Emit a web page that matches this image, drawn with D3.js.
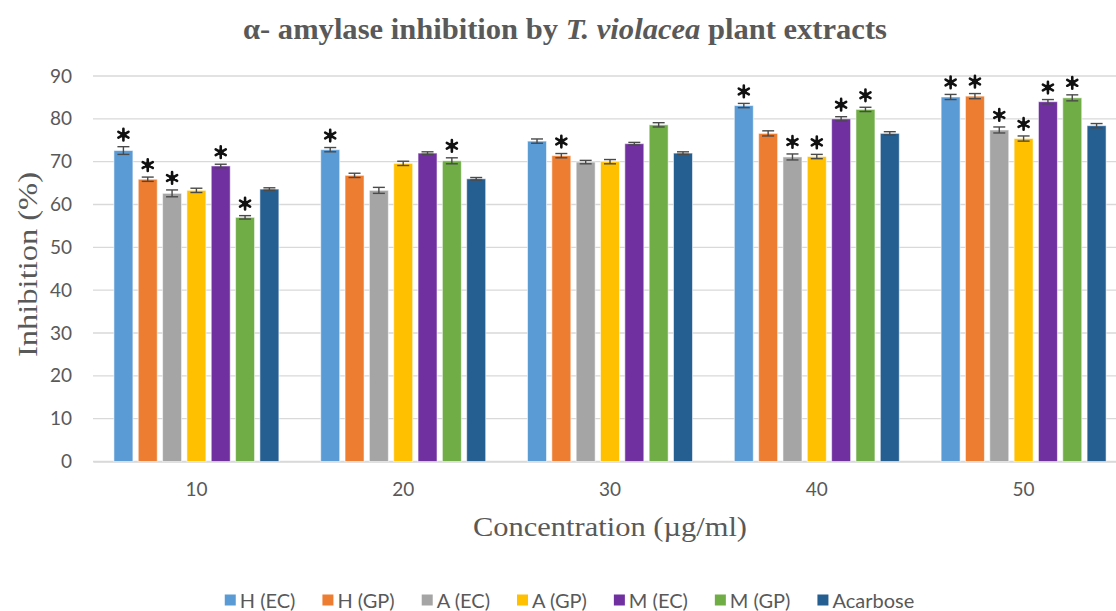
<!DOCTYPE html>
<html>
<head>
<meta charset="utf-8">
<script src="https://cdn.jsdelivr.net/npm/d3@7"></script>
<style>
  html, body { margin: 0; padding: 0; background: #fff; }
  svg { display: block; }
</style>
</head>
<body>
<svg id="chart" width="1116" height="611"></svg>
<script>
// Concentrations (µg/ml) on the x axis
const concentrations = ["10", "20", "30", "40", "50"];

// Extract / standard names, in legend order
const seriesNames = ["H (EC)", "H (GP)", "A (EC)", "A (GP)", "M (EC)", "M (GP)", "Acarbose"];
const seriesColors = ["#5B9BD5", "#ED7D31", "#A5A5A5", "#FFC000", "#7030A0", "#70AD47", "#255E91"];

// Mean inhibition (%) per series, one value per concentration
const hEC   = [72.6, 72.8, 74.8, 83.1, 85.1];
const hGP   = [65.9, 66.8, 71.4, 76.6, 85.3];
const aEC   = [62.6, 63.3, 69.9, 71.1, 77.4];
const aGP   = [63.3, 69.6, 70.0, 71.2, 75.4];
const mEC   = [69.0, 72.0, 74.2, 80.0, 84.0];
const mGP   = [57.0, 70.2, 78.6, 82.2, 84.9];
const acarb = [63.6, 66.0, 72.0, 76.6, 78.4];

// Standard error per series, one value per concentration
const hECErr   = [0.9, 0.5, 0.5, 0.5, 0.6];
const hGPErr   = [0.5, 0.5, 0.5, 0.6, 0.6];
const aECErr   = [0.8, 0.7, 0.4, 0.7, 0.7];
const aGPErr   = [0.5, 0.5, 0.5, 0.5, 0.6];
const mECErr   = [0.4, 0.3, 0.3, 0.5, 0.5];
const mGPErr   = [0.4, 0.7, 0.5, 0.5, 0.7];
const acarbErr = [0.3, 0.3, 0.3, 0.4, 0.5];

// Significance markers (*) per series, one flag per concentration
const hECSig   = [1, 1, 0, 1, 1];
const hGPSig   = [1, 0, 1, 0, 1];
const aECSig   = [1, 0, 0, 1, 1];
const aGPSig   = [0, 0, 0, 1, 1];
const mECSig   = [1, 0, 0, 1, 1];
const mGPSig   = [1, 1, 0, 1, 1];
const acarbSig = [0, 0, 0, 0, 0];

// Y axis ticks
const yTicks = [0, 10, 20, 30, 40, 50, 60, 70, 80, 90];

const seriesValues = [hEC, hGP, aEC, aGP, mEC, mGP, acarb];
const seriesErrors = [hECErr, hGPErr, aECErr, aGPErr, mECErr, mGPErr, acarbErr];
const seriesSig    = [hECSig, hGPSig, aECSig, aGPSig, mECSig, mGPSig, acarbSig];

const rows = [];
concentrations.forEach((c, ci) => {
  seriesNames.forEach((s, si) => {
    rows.push({
      conc: c, series: s, color: seriesColors[si],
      value: seriesValues[si][ci], err: seriesErrors[si][ci], sig: seriesSig[si][ci]
    });
  });
});

const svg = d3.select("#chart");
const textColor = "#595959";
const gridColor = "#D9D9D9";
const serif = "'Liberation Serif', 'Times New Roman', serif";
const sans = "Lato, 'Open Sans', sans-serif";

const plot = { left: 93, right: 1127, top: 76, bottom: 461.5 };

const x0 = d3.scaleBand().domain(concentrations).range([plot.left, plot.right]).padding(0);
const x1 = d3.scaleBand().domain(seriesNames).range([0, x0.bandwidth()])
  .paddingInner(0.22).paddingOuter(0.86);
const y = d3.scaleLinear().domain([0, 90]).range([plot.bottom, plot.top]);

// Horizontal gridlines
svg.append("g")
  .selectAll("line")
  .data(yTicks)
  .join("line")
  .attr("x1", plot.left).attr("x2", plot.right)
  .attr("y1", d => y(d)).attr("y2", d => y(d))
  .attr("stroke", gridColor).attr("stroke-width", 1.4);

// Y axis labels
const yAxis = svg.append("g")
  .attr("transform", `translate(${plot.left - 21},0)`)
  .call(d3.axisLeft(y).tickValues(yTicks).tickSize(0).tickPadding(0));
yAxis.select(".domain").remove();
yAxis.selectAll("text")
  .attr("fill", textColor)
  .style("font-family", sans)
  .style("font-size", "19px");

// X axis labels
const xAxis = svg.append("g")
  .attr("transform", `translate(0,${plot.bottom})`)
  .call(d3.axisBottom(x0).tickSize(0).tickPadding(21));
xAxis.select(".domain").attr("stroke", gridColor).attr("stroke-width", 1.4);
xAxis.selectAll("text")
  .attr("fill", textColor)
  .style("font-family", sans)
  .style("font-size", "19px");

// Bars
const groups = svg.append("g")
  .selectAll("g")
  .data(rows)
  .join("g")
  .attr("transform", d => `translate(${x0(d.conc) + x1(d.series)},0)`);

groups.append("rect")
  .attr("x", 0)
  .attr("width", x1.bandwidth())
  .attr("y", d => y(d.value))
  .attr("height", d => y(0) - y(d.value))
  .attr("fill", d => d.color)
  .attr("stroke", "#ffffff")
  .attr("stroke-opacity", 0.55)
  .attr("stroke-width", 1);

// Error bars
const cap = 6;
const errG = groups.append("g")
  .attr("stroke", "#4a4a4a")
  .attr("stroke-width", 1.4);
errG.append("line")
  .attr("x1", x1.bandwidth() / 2).attr("x2", x1.bandwidth() / 2)
  .attr("y1", d => y(d.value + d.err)).attr("y2", d => y(d.value - d.err));
errG.append("line")
  .attr("x1", x1.bandwidth() / 2 - cap).attr("x2", x1.bandwidth() / 2 + cap)
  .attr("y1", d => y(d.value + d.err)).attr("y2", d => y(d.value + d.err));
errG.append("line")
  .attr("x1", x1.bandwidth() / 2 - cap).attr("x2", x1.bandwidth() / 2 + cap)
  .attr("y1", d => y(d.value - d.err)).attr("y2", d => y(d.value - d.err));

// Significance asterisks
const star = d3.symbol().type(d3.symbolAsterisk).size(95);
const starG = groups.filter(d => d.sig)
  .append("g")
  .attr("transform", d => `translate(${x1.bandwidth() / 2},${y(d.value + d.err) - 12})`);
starG.append("path")
  .attr("d", star)
  .attr("fill", "none")
  .attr("stroke", "#111")
  .attr("stroke-width", 2.6)
  .attr("stroke-linecap", "round");
starG.append("circle")
  .attr("r", 3)
  .attr("fill", "#111");

// Title
const title = svg.append("text")
  .attr("x", 565).attr("y", 39)
  .attr("text-anchor", "middle")
  .attr("textLength", 644)
  .attr("lengthAdjust", "spacingAndGlyphs")
  .attr("fill", textColor)
  .style("font-family", serif)
  .style("font-weight", "bold")
  .style("font-size", "30px");
title.append("tspan").text("α- amylase inhibition by ");
title.append("tspan").style("font-style", "italic").text("T. violacea");
title.append("tspan").text(" plant extracts");

// Axis titles
svg.append("text")
  .attr("transform", `translate(37,264.5) rotate(-90)`)
  .attr("text-anchor", "middle")
  .attr("textLength", 185)
  .attr("lengthAdjust", "spacingAndGlyphs")
  .attr("fill", textColor)
  .style("font-family", serif)
  .style("font-size", "28px")
  .text("Inhibition (%)");

svg.append("text")
  .attr("x", 610).attr("y", 536)
  .attr("text-anchor", "middle")
  .attr("textLength", 274)
  .attr("lengthAdjust", "spacingAndGlyphs")
  .attr("fill", textColor)
  .style("font-family", serif)
  .style("font-size", "27px")
  .text("Concentration (µg/ml)");

// Legend
const legend = svg.append("g").attr("transform", "translate(0,600)");
const items = legend.selectAll("g")
  .data(seriesNames)
  .join("g");
items.append("rect")
  .attr("y", -5.5).attr("width", 11).attr("height", 11)
  .attr("fill", (d, i) => seriesColors[i]);
items.append("text")
  .attr("x", 15).attr("y", 0)
  .attr("dominant-baseline", "central")
  .attr("fill", textColor)
  .style("font-family", sans)
  .style("font-size", "20px")
  .text(d => d);
let cursor = 0;
const gap = 27;
const positions = [];
items.each(function () {
  const w = this.getBBox().width;
  positions.push(cursor);
  cursor += w + gap;
});
const total = cursor - gap;
const startX = 569.5 - total / 2;
items.attr("transform", (d, i) => `translate(${startX + positions[i]},0)`);
</script>
</body>
</html>
